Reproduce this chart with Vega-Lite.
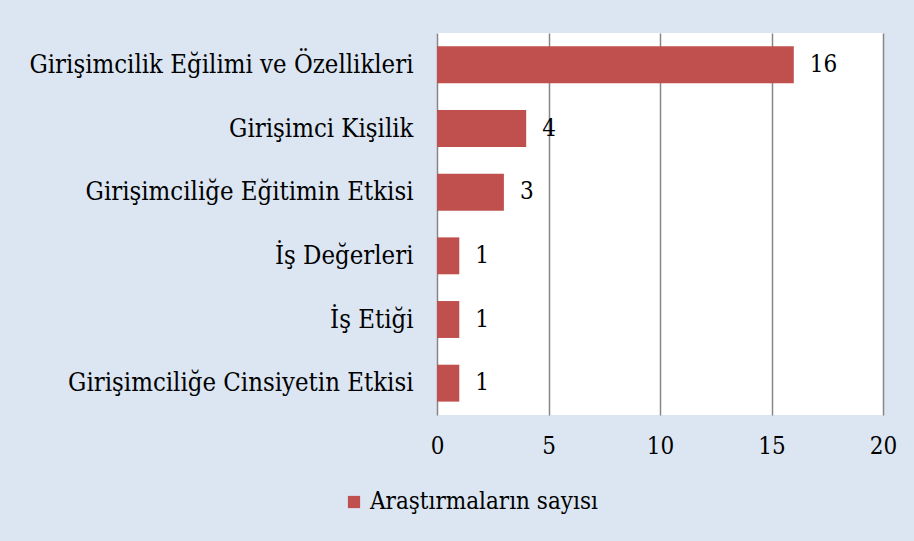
{
  "$schema": "https://vega.github.io/schema/vega-lite/v6.json",
  "width": 446,
  "height": 382,
  "autosize": {"type": "none"},
  "padding": {"left": 437, "top": 33, "right": 31, "bottom": 126},
  "background": "#dce6f2",
  "config": {
    "font": "DejaVu Serif Condensed",
    "view": {"fill": "white", "stroke": null}
  },
  "data": {
    "values": [
      {"topic": "Girişimcilik Eğilimi ve Özellikleri", "count": 16},
      {"topic": "Girişimci Kişilik", "count": 4},
      {"topic": "Girişimciliğe Eğitimin Etkisi", "count": 3},
      {"topic": "İş Değerleri", "count": 1},
      {"topic": "İş Etiği", "count": 1},
      {"topic": "Girişimciliğe Cinsiyetin Etkisi", "count": 1}
    ]
  },
  "encoding": {
    "y": {
      "field": "topic",
      "type": "nominal",
      "sort": null,
      "title": null,
      "scale": {"paddingInner": 0.42, "paddingOuter": 0.21},
      "axis": {
        "domain": false,
        "ticks": false,
        "labelFont": "DejaVu Serif Condensed",
        "labelFontSize": 25.5,
        "labelColor": "black",
        "labelPadding": 24,
        "labelLimit": 500
      }
    },
    "x": {
      "field": "count",
      "type": "quantitative",
      "title": null,
      "scale": {"domain": [0, 20]},
      "axis": {
        "values": [0, 5, 10, 15, 20],
        "domain": false,
        "ticks": false,
        "grid": true,
        "gridColor": "#868686",
        "gridWidth": 1.5,
        "labelFlush": false,
        "labelFont": "DejaVu Serif Condensed",
        "labelFontSize": 24,
        "labelColor": "black",
        "labelPadding": 19
      }
    }
  },
  "layer": [
    {
      "mark": {"type": "bar"},
      "encoding": {
        "color": {
          "datum": "Araştırmaların sayısı",
          "type": "nominal",
          "scale": {"range": ["#c0504d"]},
          "legend": {
            "title": null,
            "orient": "none",
            "legendX": -95,
            "legendY": 457,
            "symbolType": "square",
            "symbolSize": 150,
            "labelFont": "DejaVu Serif Condensed",
            "labelFontSize": 24,
            "labelColor": "black",
            "labelOffset": 4,
            "labelLimit": 400
          }
        }
      }
    },
    {
      "mark": {"type": "text", "align": "left", "baseline": "middle", "dx": 16, "fontSize": 24, "color": "black", "font": "DejaVu Serif Condensed"},
      "encoding": {"text": {"field": "count", "type": "quantitative"}}
    }
  ]
}
